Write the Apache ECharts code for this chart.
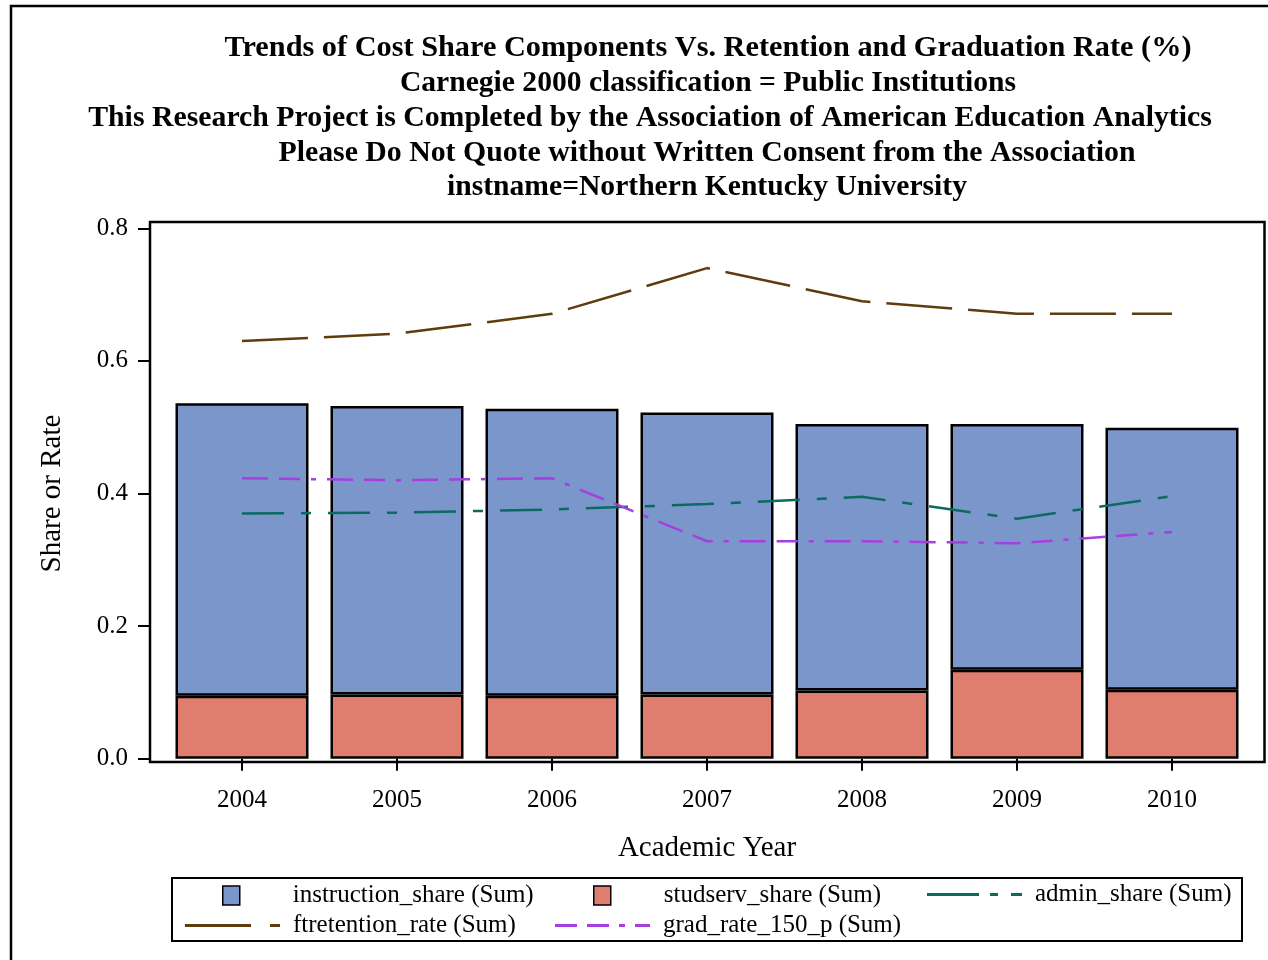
<!DOCTYPE html>
<html>
<head>
<meta charset="utf-8">
<script src="https://cdn.jsdelivr.net/npm/echarts@6/dist/echarts.min.js"></script>
<style>html,body{margin:0;padding:0;background:#fff;}#c{width:1268px;height:960px;}</style>
</head>
<body>
<div id="c"></div>
<script>
const years = ['2004','2005','2006','2007','2008','2009','2010'];
const studservShare = [0.095, 0.097, 0.095, 0.097, 0.103, 0.134, 0.104];
const instructionShare = [0.441, 0.435, 0.433, 0.425, 0.402, 0.371, 0.395];
const adminShare = [0.370, 0.371, 0.376, 0.384, 0.395, 0.362, 0.396];
const ftretentionRate = [0.630, 0.641, 0.671, 0.740, 0.690, 0.671, 0.671];
const gradRate150 = [0.423, 0.420, 0.423, 0.328, 0.328, 0.325, 0.342];
const yTicks = [0.0, 0.2, 0.4, 0.6, 0.8];
const titles = [
  'Trends of Cost Share Components Vs. Retention and Graduation Rate (%)',
  'Carnegie 2000 classification = Public Institutions',
  'This Research Project is Completed by the Association of American Education Analytics',
  'Please Do Not Quote without Written Consent from the Association',
  'instname=Northern Kentucky University'
];

const FONT = '"Liberation Serif", "Times New Roman", serif';
const C_INS = '#7B96CB', C_STU = '#DF7E6F', C_ADM = '#0B6B61', C_FT = '#5E3C0C', C_GR = '#A53FE0';

const chart = echarts.init(document.getElementById('c'), null, {renderer: 'canvas'});

const titleY = [48, 83, 118, 153, 187];
const titleX = [708, 708, 650, 707, 707];
const titleSize = [30.3, 29.6, 29.8, 29.8, 29.6];
const graphics = [
  {type: 'rect', shape: {x: 11, y: 6, width: 1400, height: 1100}, style: {fill: 'none', stroke: '#000', lineWidth: 2.5}, silent: true},
  {type: 'rect', shape: {x: 150, y: 222, width: 1114.5, height: 540}, style: {fill: 'none', stroke: '#000', lineWidth: 2.5}, silent: true, z: 10},
  {type: 'rect', shape: {x: 172, y: 878, width: 1070, height: 63}, style: {fill: 'none', stroke: '#000', lineWidth: 2}, silent: true}
];
titles.forEach((t, i) => {
  graphics.push({type: 'text', x: titleX[i], y: titleY[i], style: {text: t, fill: '#000', font: 'bold ' + titleSize[i] + 'px ' + FONT, textAlign: 'center', textVerticalAlign: 'middle'}, silent: true});
});

function lineLegend(name, left, top, path, color) {
  return {
    data: [name], left: left, top: top, orient: 'horizontal',
    icon: path, itemWidth: 95, itemHeight: 3,
    itemStyle: {color: color, borderWidth: 0},
    textStyle: {fontFamily: FONT, fontSize: 25, color: '#000', rich: {p: {width: 8}}},
    formatter: n => '{p|}' + n,
    selectedMode: false, padding: 0
  };
}
function barLegend(name, left, top, color) {
  return {
    data: [name], left: left, top: top, orient: 'horizontal',
    icon: 'rect', itemWidth: 17, itemHeight: 19,
    itemStyle: {color: color, borderColor: '#000', borderWidth: 1.5},
    textStyle: {fontFamily: FONT, fontSize: 25, color: '#000', rich: {p: {width: 48}}},
    formatter: n => '{p|}' + n,
    selectedMode: false, padding: 0
  };
}

const option = {
  animation: false,
  backgroundColor: '#fff',
  graphic: graphics,
  legend: [
    barLegend('instruction_share (Sum)', 222, 883, C_INS),
    barLegend('studserv_share (Sum)', 593, 883, C_STU),
    lineLegend('admin_share (Sum)', 927, 882, 'path://M0,0H52V3H0Z M63,0H71V3H63Z M84,0H95V3H84Z', C_ADM),
    lineLegend('ftretention_rate (Sum)', 185, 913, 'path://M0,0H66V3H0Z M85,0H95V3H85Z', C_FT),
    lineLegend('grad_rate_150_p (Sum)', 555, 913, 'path://M0,0H22V3H0Z M32,0H54V3H32Z M64,0H70V3H64Z M80,0H95V3H80Z', C_GR)
  ],
  grid: {left: 164.5, right: 18.5, top: 228.3, bottom: 201.3, containLabel: false},
  xAxis: {
    type: 'category', data: years, boundaryGap: true, offset: 3.5,
    axisLine: {show: false},
    axisTick: {show: true, alignWithLabel: true, length: 12, lineStyle: {color: '#000', width: 2}},
    axisLabel: {fontFamily: FONT, fontSize: 25, color: '#000', margin: 26},
    name: 'Academic Year', nameLocation: 'middle', nameGap: 72,
    nameTextStyle: {fontFamily: FONT, fontSize: 29, color: '#000'},
    splitLine: {show: false}
  },
  yAxis: {
    type: 'value', min: 0, max: 0.8, interval: 0.2, offset: 14.5,
    axisLine: {show: false},
    axisTick: {show: true, length: 12, lineStyle: {color: '#000', width: 2}},
    axisLabel: {fontFamily: FONT, fontSize: 25, color: '#000', margin: 22, formatter: v => v.toFixed(1)},
    name: 'Share or Rate', nameLocation: 'middle', nameGap: 83, nameRotate: 90,
    nameTextStyle: {fontFamily: FONT, fontSize: 29, color: '#000'},
    splitLine: {show: false}
  },
  series: [
    {name: 'studserv_share (Sum)', type: 'bar', stack: 'cost', data: studservShare, barWidth: 133,
     itemStyle: {color: C_STU, borderColor: '#000', borderWidth: 2.5}},
    {name: 'instruction_share (Sum)', type: 'bar', stack: 'cost', data: instructionShare, barWidth: 133,
     itemStyle: {color: C_INS, borderColor: '#000', borderWidth: 2.5}},
    {name: 'admin_share (Sum)', type: 'line', data: adminShare, symbol: 'none', z: 5,
     itemStyle: {color: C_ADM}, lineStyle: {color: C_ADM, width: 2.5, type: [42, 17, 10, 17]}},
    {name: 'ftretention_rate (Sum)', type: 'line', data: ftretentionRate, symbol: 'none', z: 5,
     itemStyle: {color: C_FT}, lineStyle: {color: C_FT, width: 2.5, type: [66, 16]}},
    {name: 'grad_rate_150_p (Sum)', type: 'line', data: gradRate150, symbol: 'none', z: 5,
     itemStyle: {color: C_GR}, lineStyle: {color: C_GR, width: 2.5, type: [26, 11, 21, 11, 5, 11]}}
  ]
};
chart.setOption(option);
</script>
</body>
</html>
